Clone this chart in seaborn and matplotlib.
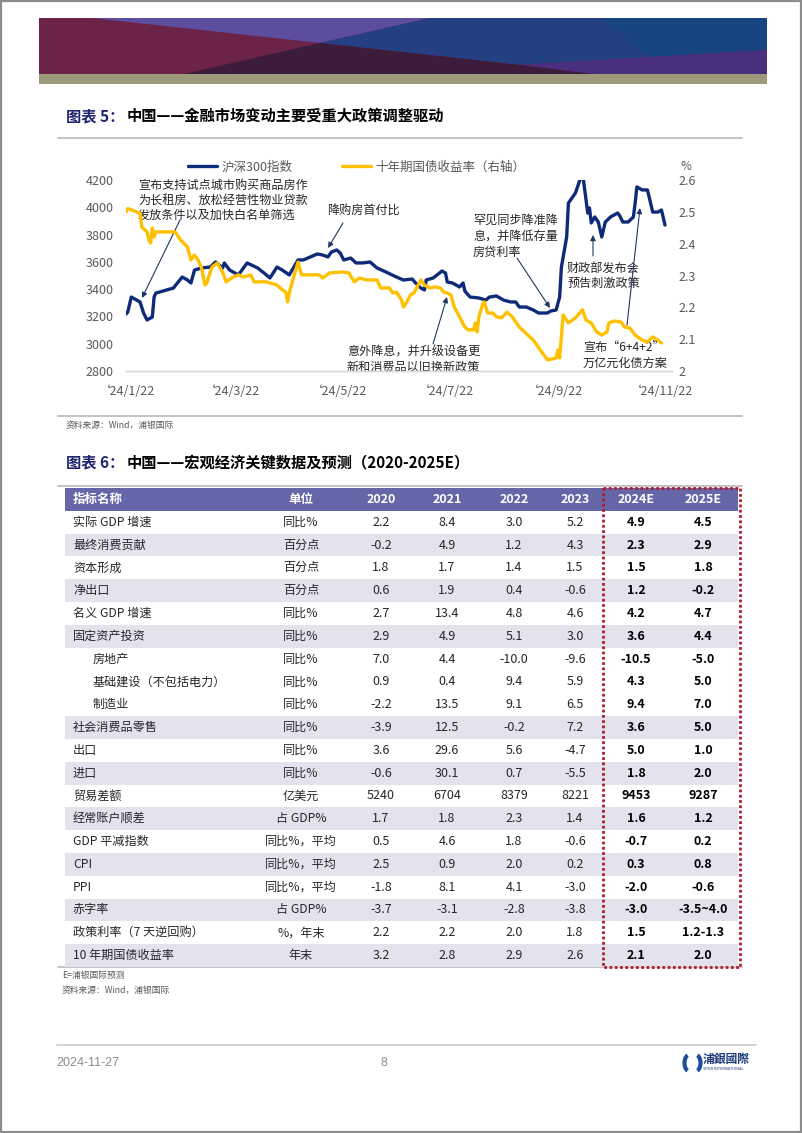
import matplotlib
matplotlib.use('Agg')
import matplotlib.pyplot as plt
from matplotlib.patches import Polygon, Rectangle, Arc
from matplotlib.lines import Line2D
import numpy as np
import pandas as pd
import seaborn as sns

W, H = 802, 1133
sns.set_theme(style='white')
plt.rcParams['font.family'] = ['Noto Sans CJK SC', 'DejaVu Sans']
plt.rcParams['axes.unicode_minus'] = False

# ---------------- chart data ----------------
series_names = ['沪深300指数', '十年期国债收益率（右轴）']

csi_dates = ['2024-01-22', '2024-01-23', '2024-01-25', '2024-01-30', '2024-02-01', '2024-02-03',
             '2024-02-06', '2024-02-07', '2024-02-08', '2024-02-18', '2024-02-23', '2024-02-26',
             '2024-02-28', '2024-03-01', '2024-03-05', '2024-03-10', '2024-03-13', '2024-03-17',
             '2024-03-18', '2024-03-21', '2024-03-26', '2024-03-31', '2024-04-06', '2024-04-11',
             '2024-04-13', '2024-04-17', '2024-04-20', '2024-04-24', '2024-04-29', '2024-05-02',
             '2024-05-06', '2024-05-10', '2024-05-13', '2024-05-16', '2024-05-18', '2024-05-21',
             '2024-05-23', '2024-05-25', '2024-05-29', '2024-06-01', '2024-06-05', '2024-06-09',
             '2024-06-13', '2024-06-18', '2024-06-24', '2024-06-28', '2024-07-03', '2024-07-05',
             '2024-07-08', '2024-07-10', '2024-07-11', '2024-07-15', '2024-07-20', '2024-07-22',
             '2024-07-23', '2024-07-26', '2024-07-30', '2024-08-01', '2024-08-02', '2024-08-05',
             '2024-08-10', '2024-08-14', '2024-08-16', '2024-08-20', '2024-08-24', '2024-08-28',
             '2024-08-31', '2024-09-02', '2024-09-06', '2024-09-10', '2024-09-13', '2024-09-18',
             '2024-09-20', '2024-09-23', '2024-09-25', '2024-09-26', '2024-09-29', '2024-09-30',
             '2024-10-04', '2024-10-08', '2024-10-11', '2024-10-12', '2024-10-13', '2024-10-15',
             '2024-10-17', '2024-10-19', '2024-10-21', '2024-10-24', '2024-10-28', '2024-10-29',
             '2024-10-31', '2024-11-03', '2024-11-06', '2024-11-07', '2024-11-08', '2024-11-11',
             '2024-11-14', '2024-11-15', '2024-11-17', '2024-11-20', '2024-11-22', '2024-11-24']
csi_values = [3218, 3232, 3342, 3306, 3225, 3174,
              3196, 3342, 3371, 3408, 3489, 3467,
              3445, 3540, 3555, 3562, 3599, 3555,
              3592, 3540, 3504, 3592, 3555, 3504,
              3482, 3562, 3540, 3504, 3614, 3614,
              3636, 3658, 3650, 3636, 3672, 3687,
              3665, 3614, 3628, 3592, 3592, 3599,
              3555, 3526, 3489, 3467, 3474, 3445,
              3408, 3394, 3467, 3482, 3533, 3518,
              3452, 3445, 3416, 3445, 3386, 3342,
              3335, 3320, 3342, 3350, 3320, 3306,
              3306, 3269, 3269, 3247, 3225, 3225,
              3240, 3247, 3342, 3562, 3782, 4031,
              4105, 4256, 3958, 3995, 3885, 3929,
              3892, 3782, 3892, 3929, 3958, 3943,
              3892, 3892, 3929, 4031, 4149, 4127,
              4127, 4075, 3965, 3965, 3980, 3870]

bond_dates = ['2024-01-22', '2024-01-23', '2024-01-25', '2024-01-28', '2024-01-30', '2024-01-31',
              '2024-02-03', '2024-02-04', '2024-02-05', '2024-02-06', '2024-02-07', '2024-02-08',
              '2024-02-19', '2024-02-22', '2024-02-26', '2024-02-28', '2024-03-01', '2024-03-03',
              '2024-03-05', '2024-03-07', '2024-03-08', '2024-03-11', '2024-03-14', '2024-03-17',
              '2024-03-19', '2024-03-23', '2024-03-26', '2024-03-29', '2024-04-02', '2024-04-04',
              '2024-04-11', '2024-04-17', '2024-04-20', '2024-04-22', '2024-04-23', '2024-04-24',
              '2024-04-26', '2024-04-29', '2024-05-01', '2024-05-11', '2024-05-13', '2024-05-17',
              '2024-05-24', '2024-05-28', '2024-05-31', '2024-06-03', '2024-06-07', '2024-06-13',
              '2024-06-15', '2024-06-20', '2024-06-22', '2024-06-24', '2024-06-27', '2024-06-28',
              '2024-06-30', '2024-07-02', '2024-07-04', '2024-07-08', '2024-07-10', '2024-07-13',
              '2024-07-16', '2024-07-19', '2024-07-21', '2024-07-23', '2024-07-25', '2024-07-27',
              '2024-07-30', '2024-08-02', '2024-08-04', '2024-08-07', '2024-08-08', '2024-08-09',
              '2024-08-10', '2024-08-12', '2024-08-13', '2024-08-14', '2024-08-15', '2024-08-18',
              '2024-08-20', '2024-08-23', '2024-08-26', '2024-08-29', '2024-08-31', '2024-09-02',
              '2024-09-05', '2024-09-08', '2024-09-10', '2024-09-14', '2024-09-18', '2024-09-21',
              '2024-09-23', '2024-09-24', '2024-09-25', '2024-09-26', '2024-09-27', '2024-09-30',
              '2024-10-04', '2024-10-08', '2024-10-10', '2024-10-13', '2024-10-16', '2024-10-19',
              '2024-10-22', '2024-10-23', '2024-10-26', '2024-10-30', '2024-11-01', '2024-11-04',
              '2024-11-07', '2024-11-11', '2024-11-14', '2024-11-17', '2024-11-20', '2024-11-22']
bond_values = [2.500, 2.510, 2.506, 2.500, 2.496, 2.452,
               2.437, 2.412, 2.402, 2.449, 2.421, 2.437,
               2.437, 2.412, 2.390, 2.349, 2.364, 2.349,
               2.324, 2.270, 2.276, 2.327, 2.339, 2.311,
               2.280, 2.295, 2.302, 2.295, 2.302, 2.280,
               2.280, 2.270, 2.255, 2.248, 2.217, 2.245,
               2.286, 2.342, 2.302, 2.302, 2.292, 2.308,
               2.311, 2.308, 2.280, 2.292, 2.286, 2.286,
               2.261, 2.261, 2.245, 2.248, 2.223, 2.201,
               2.217, 2.239, 2.245, 2.286, 2.270, 2.261,
               2.264, 2.261, 2.248, 2.245, 2.239, 2.201,
               2.170, 2.138, 2.129, 2.129, 2.151, 2.123,
               2.170, 2.207, 2.217, 2.201, 2.182, 2.182,
               2.170, 2.167, 2.185, 2.170, 2.154, 2.138,
               2.123, 2.107, 2.097, 2.066, 2.035, 2.038,
               2.041, 2.066, 2.041, 2.107, 2.176, 2.151,
               2.167, 2.192, 2.160, 2.151, 2.123, 2.113,
               2.123, 2.151, 2.157, 2.154, 2.138, 2.135,
               2.113, 2.097, 2.091, 2.107, 2.097, 2.088]

xtick_dates = ['2024-01-22', '2024-03-22', '2024-05-22', '2024-07-22', '2024-09-22', '2024-11-22']
xtick_labels = ['‘24/1/22', '‘24/3/22', '‘24/5/22', '‘24/7/22', '‘24/9/22', '‘24/11/22']
left_ticks = [2800, 3000, 3200, 3400, 3600, 3800, 4000, 4200]
right_ticks = [2.0, 2.1, 2.2, 2.3, 2.4, 2.5, 2.6]
right_tick_labels = ['2', '2.1', '2.2', '2.3', '2.4', '2.5', '2.6']

# ---------------- table data ----------------
table_header = ['指标名称', '单位', '2020', '2021', '2022', '2023', '2024E', '2025E']
indicators = ['实际 GDP 增速', '最终消费贡献', '资本形成', '净出口', '名义 GDP 增速', '固定资产投资',
              '房地产', '基础建设（不包括电力）', '制造业', '社会消费品零售', '出口', '进口',
              '贸易差额', '经常账户顺差', 'GDP 平减指数', 'CPI', 'PPI', '赤字率',
              '政策利率（7 天逆回购）', '10 年期国债收益率']
indented = [False, False, False, False, False, False, True, True, True, False, False, False,
            False, False, False, False, False, False, False, False]
units = ['同比%', '百分点', '百分点', '百分点', '同比%', '同比%', '同比%', '同比%', '同比%', '同比%',
         '同比%', '同比%', '亿美元', '占 GDP%', '同比%，平均', '同比%，平均', '同比%，平均', '占 GDP%',
         '%，年末', '年末']
y2020 = ['2.2', '-0.2', '1.8', '0.6', '2.7', '2.9', '7.0', '0.9', '-2.2', '-3.9', '3.6', '-0.6',
         '5240', '1.7', '0.5', '2.5', '-1.8', '-3.7', '2.2', '3.2']
y2021 = ['8.4', '4.9', '1.7', '1.9', '13.4', '4.9', '4.4', '0.4', '13.5', '12.5', '29.6', '30.1',
         '6704', '1.8', '4.6', '0.9', '8.1', '-3.1', '2.2', '2.8']
y2022 = ['3.0', '1.2', '1.4', '0.4', '4.8', '5.1', '-10.0', '9.4', '9.1', '-0.2', '5.6', '0.7',
         '8379', '2.3', '1.8', '2.0', '4.1', '-2.8', '2.0', '2.9']
y2023 = ['5.2', '4.3', '1.5', '-0.6', '4.6', '3.0', '-9.6', '5.9', '6.5', '7.2', '-4.7', '-5.5',
         '8221', '1.4', '-0.6', '0.2', '-3.0', '-3.8', '1.8', '2.6']
y2024e = ['4.9', '2.3', '1.5', '1.2', '4.2', '3.6', '-10.5', '4.3', '9.4', '3.6', '5.0', '1.8',
          '9453', '1.6', '-0.7', '0.3', '-2.0', '-3.0', '1.5', '2.1']
y2025e = ['4.5', '2.9', '1.8', '-0.2', '4.7', '4.4', '-5.0', '5.0', '7.0', '5.0', '1.0', '2.0',
          '9287', '1.2', '0.2', '0.8', '-0.6', '-3.5~4.0', '1.2-1.3', '2.0']
shaded = [False, True, False, True, False, True, False, False, False, True, False, True,
          False, True, False, True, False, True, False, True]

# ---------------- colours ----------------
NAVY = '#0E2A78'
GOLD = '#FFC000'
GRAY = '#595959'
ARROW = '#1F3864'
HEAD_BG = '#6466A8'
STRIPE = '#E3E3EE'

fig = plt.figure(figsize=(W / 100, H / 100), dpi=100)
page = fig.add_axes([0, 0, 1, 1], zorder=0)
page.set_xlim(0, W)
page.set_ylim(H, 0)
page.axis('off')

# page border
page.add_patch(Rectangle((0.8, 0.8), W - 1.6, H - 1.6, fill=False, ec='#8C8C8C', lw=1.6))

# banner
page.add_patch(Rectangle((39, 18), 728, 56, fc='#6B2348', ec='none'))
page.add_patch(Polygon([(92, 18), (430, 18), (320, 43)], closed=True, fc='#5C4D9E', ec='none'))
page.add_patch(Polygon([(430, 18), (767, 18), (767, 50), (520, 65), (320, 43)], closed=True,
                       fc='#243F82', ec='none'))
page.add_patch(Polygon([(600, 18), (767, 18), (767, 50), (650, 57)], closed=True, fc='#174381', ec='none'))
page.add_patch(Polygon([(520, 65), (767, 50), (767, 74), (593, 74)], closed=True, fc='#4A2F7F', ec='none'))
page.add_patch(Polygon([(184, 74), (320, 43), (520, 65), (593, 74)], closed=True, fc='#3D1B3B', ec='none'))
page.add_patch(Rectangle((39, 74), 728, 10, fc='#9C9A7A', ec='none'))

# titles
def title(y, num, rest):
    page.text(66, y, num, color='#1F2470', fontsize=11, fontweight='bold', va='center', ha='left')
    page.text(127, y, rest, color='black', fontsize=11, fontweight='bold', va='center', ha='left')

title(116, '图表 5：', '中国——金融市场变动主要受重大政策调整驱动')
title(462, '图表 6：', '中国——宏观经济关键数据及预测（2020-2025E）')

for yy in (138, 415.5, 486):
    page.plot([58, 742], [yy, yy], color='#BFBFBF', lw=1.3)
page.text(66, 425, '资料来源：Wind，浦银国际', fontsize=6.3, color=GRAY, va='center')

# ---------------- line chart ----------------
ax = fig.add_axes([126 / W, 1 - 371 / H, 546 / W, 191 / H], zorder=2)
ax.patch.set_alpha(0)
csi_df = pd.DataFrame({'date': pd.to_datetime(csi_dates), 'value': csi_values})
bond_df = pd.DataFrame({'date': pd.to_datetime(bond_dates), 'value': bond_values})
sns.lineplot(data=csi_df, x='date', y='value', ax=ax, color=NAVY, lw=2.4)
ax2 = ax.twinx()
sns.lineplot(data=bond_df, x='date', y='value', ax=ax2, color=GOLD, lw=2.4)

ax.set_xlim(pd.Timestamp('2024-01-22'), pd.Timestamp('2024-11-28'))
ax.set_ylim(2800, 4200)
ax2.set_ylim(2.0, 2.6)
ax.set_xticks(pd.to_datetime(xtick_dates))
ax.set_xticklabels(xtick_labels)
ax.set_yticks(left_ticks)
ax.set_yticklabels([str(v) for v in left_ticks])
ax2.set_yticks(right_ticks)
ax2.set_yticklabels(right_tick_labels)
for a in (ax, ax2):
    a.set_xlabel('')
    a.set_ylabel('')
    a.grid(False)
    for s in ('left', 'right', 'top'):
        a.spines[s].set_visible(False)
    a.spines['bottom'].set_color('#D9D9D9')
    a.spines['bottom'].set_linewidth(1.0)
ax.tick_params(axis='x', length=0, pad=10, labelsize=9, labelcolor=GRAY)
ax.tick_params(axis='y', length=0, pad=9, labelsize=9, labelcolor=GRAY)
ax2.tick_params(axis='y', length=0, pad=5, labelsize=9, labelcolor=GRAY)
page.text(686, 166, '%', fontsize=8.5, color=GRAY, ha='center', va='center')

handles = [Line2D([], [], color=NAVY, lw=2.4), Line2D([], [], color=GOLD, lw=2.4)]
fig.legend(handles=handles, labels=series_names, loc='center left',
           bbox_to_anchor=(188 / W, 1 - 167 / H), ncol=2, frameon=False, fontsize=9,
           handlelength=2.3, handletextpad=0.35, columnspacing=4.0, borderpad=0,
           borderaxespad=0, labelcolor=GRAY)

# annotations
ANN_FS = 8.7
def note(x, y0, lines, pitch=15.5):
    for k, ln in enumerate(lines):
        page.text(x, y0 + k * pitch, ln, fontsize=ANN_FS, color='#262626', ha='left', va='center', zorder=3)

def arrow(tail, head):
    page.annotate('', xy=head, xytext=tail, xycoords='data', textcoords='data',
                  arrowprops=dict(arrowstyle='-|>', color=ARROW, lw=0.8, mutation_scale=8,
                                  shrinkA=0, shrinkB=0), zorder=3)

note(138, 185, ['宣布支持试点城市购买商品房作', '为长租房、放松经营性物业贷款', '发放条件以及加快白名单筛选'], 15)
arrow((180, 220), (142, 298))
note(327, 210, ['降购房首付比'])
arrow((343, 223), (328, 248))
note(473, 220, ['罕见同步降准降', '息，并降低存量', '房贷利率'], 16)
arrow((517, 258), (550, 308))
note(567, 268, ['财政部发布会', '预告刺激政策'], 15)
arrow((593, 256), (593, 235))
note(583, 347, ['宣布“6+4+2”', '万亿元化债方案'], 16)
arrow((627, 325), (640, 208))
note(347, 352, ['意外降息，并升级设备更', '新和消费品以旧换新政策'], 15)
arrow((433, 344), (447, 297))

# ---------------- table ----------------
tab = fig.add_axes([65 / W, 1 - 967 / H, 677 / W, 479 / H], zorder=1)
tab.set_xlim(65, 742)
tab.set_ylim(21, 0)
tab.axis('off')

tab.add_patch(Rectangle((65, 0), 673, 1, fc=HEAD_BG, ec='none'))
for i, sh in enumerate(shaded):
    if sh:
        tab.add_patch(Rectangle((65, i + 1), 673, 1, fc=STRIPE, ec='none'))

col_x = [73, 301, 381, 447, 514, 575, 636, 703]
for j, h in enumerate(table_header):
    tab.text(col_x[j], 0.5, h, color='white', fontsize=9, fontweight='bold',
             ha='left' if j == 0 else 'center', va='center')

columns = [y2020, y2021, y2022, y2023, y2024e, y2025e]
for i in range(len(indicators)):
    yc = i + 1.5
    tab.text(93 if indented[i] else 73, yc, indicators[i], fontsize=8.7, color='#262626',
             ha='left', va='center')
    tab.text(col_x[1], yc, units[i], fontsize=8.7, color='#262626', ha='center', va='center')
    for j, col in enumerate(columns):
        bold = j >= 4
        tab.text(col_x[j + 2], yc, col[i], fontsize=9, color='black' if bold else '#262626',
                 fontweight='bold' if bold else 'normal', ha='center', va='center')

tab.add_patch(Rectangle((603, 0.02), 137, 20.96, fill=False, ec='#B01B30', lw=2,
                        ls=(0, (1, 0.9)), clip_on=False, zorder=4))
page.plot([58, 742], [967, 967], color='#BFBFBF', lw=1.3)

page.text(62, 975, 'E=浦银国际预测', fontsize=6.3, color=GRAY, va='center')
page.text(62, 990, '资料来源：Wind，浦银国际', fontsize=6.3, color=GRAY, va='center')

# ---------------- footer ----------------
page.plot([57, 756], [1045, 1045], color='#D0D0D0', lw=1.3)
page.text(56, 1063, '2024-11-27', fontsize=9, color='#8C8C8C', va='center', family='Liberation Sans')
page.text(384, 1063, '8', fontsize=9, color='#8C8C8C', va='center', ha='center', family='Liberation Sans')
page.add_patch(Arc((689, 1063), 9, 16, theta1=100, theta2=260, color='#1F4E9A', lw=3))
page.add_patch(Arc((696, 1063), 9, 16, theta1=-80, theta2=80, color='#1F4E9A', lw=3))
page.text(703, 1059, '浦銀國際', fontsize=8.5, fontweight='bold', color='#1F3B7A', va='center',
          family=['Noto Sans CJK TC', 'DejaVu Sans'])
page.text(703, 1069, 'SPDB INTERNATIONAL', fontsize=2.8, color='#1F3B7A', va='center')

fig.savefig('out.png', dpi=100)
